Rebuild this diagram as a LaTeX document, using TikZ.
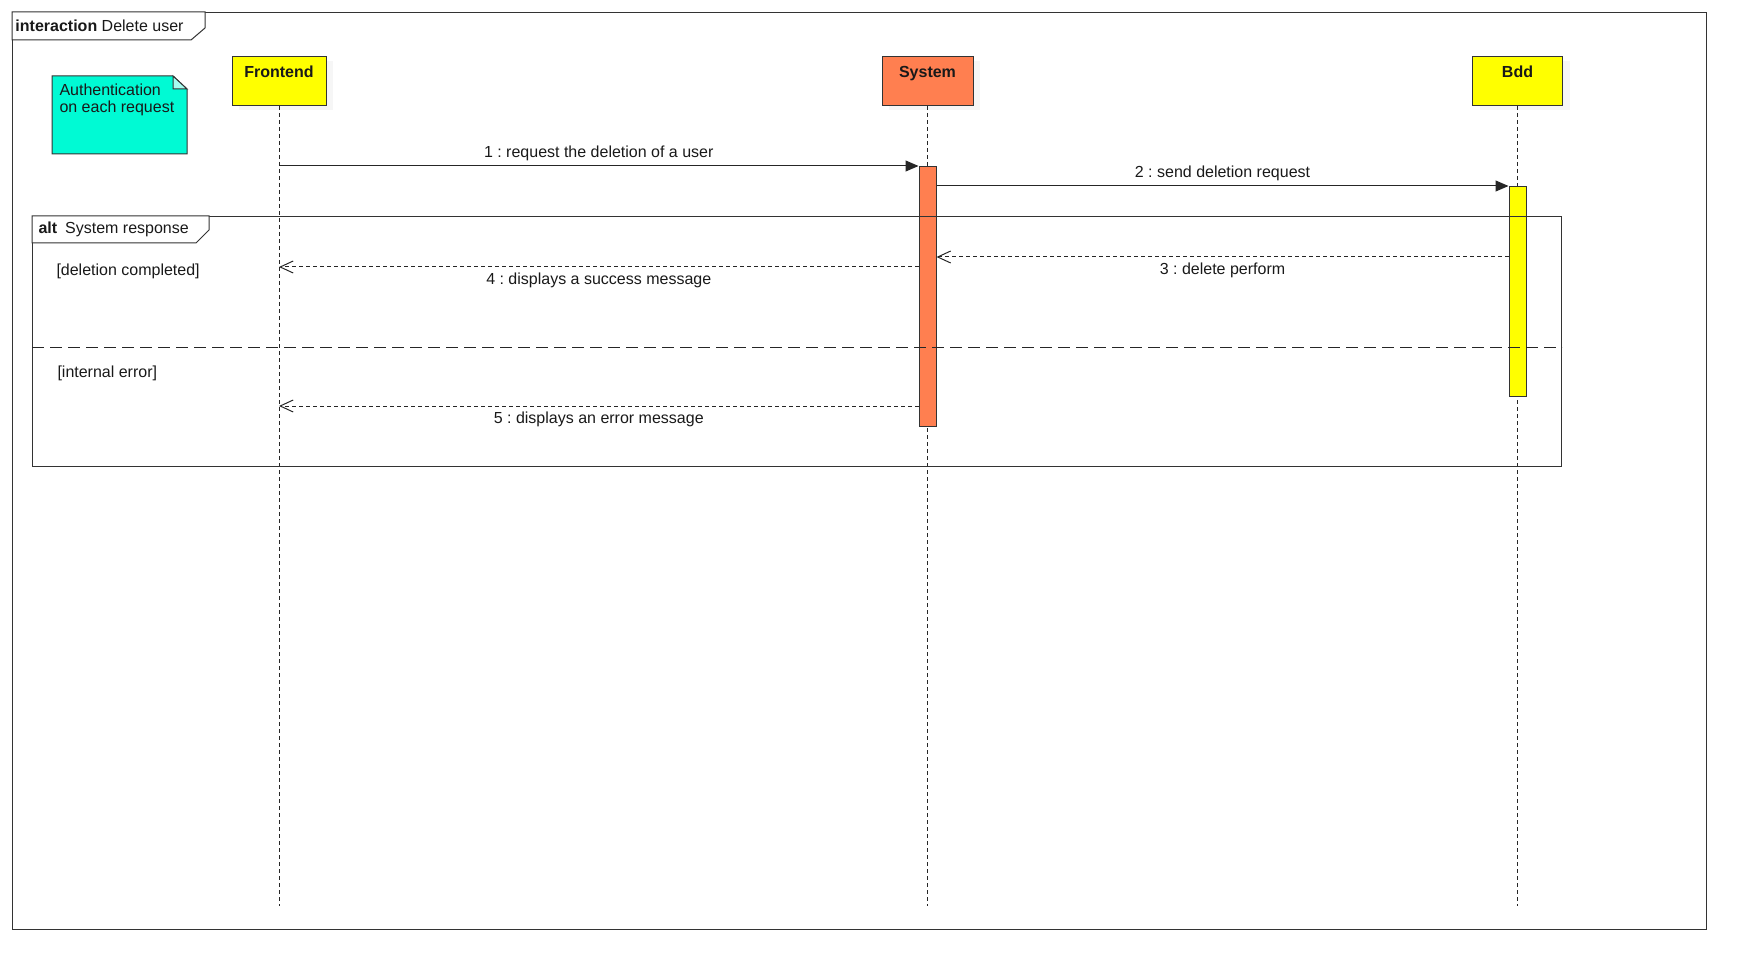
\documentclass[tikz,border=0pt]{standalone}
\usepackage{fontspec}
\setmainfont{Liberation Sans}
\usetikzlibrary{positioning,arrows.meta,shadows}
\frenchspacing

\definecolor{headyellow}{RGB}{255,255,0}
\definecolor{syscoral}{RGB}{255,127,80}
\definecolor{noteaqua}{RGB}{0,250,212}
\definecolor{framegray}{RGB}{51,51,51}

\begin{document}
\begin{tikzpicture}[x=1pt, y=-1pt, line width=1pt,
    every node/.style = {font=\fontsize{16}{17}\selectfont, text=black!90},
    head/.style = {draw=framegray, minimum width=#1, inner sep=0pt, anchor=north,
      text height=21pt, text depth=28pt, font=\fontsize{16}{17}\selectfont\bfseries,
      drop shadow={opacity=0.07, shadow xshift=7pt, shadow yshift=-5pt}},
    lifeline/.style = {draw=black!85, line width=0.8pt, dash pattern=on 4pt off 3pt},
    actbar/.style = {draw=framegray, minimum width=17pt, inner sep=0pt, anchor=north},
    sync/.style = {draw=black!85, -{Triangle[length=13pt,width=11pt]}},
    reply/.style = {draw=black!85, dash pattern=on 4pt off 3pt, -{Straight Barb[length=13pt,width=12pt]}},
    msglabel/.style = {midway, inner sep=5pt},
    umlframe/.style = {draw=framegray, inner sep=0pt, anchor=north west},
    guard/.style = {anchor=west, inner sep=0pt}]
  \useasboundingbox (0,0) rectangle (1756,976);

  % rows of the messages
  \coordinate (m1) at (0,166);
  \coordinate (m2) at (0,186);
  \coordinate (m3) at (0,257);
  \coordinate (m4) at (0,267);
  \coordinate (m5) at (0,406);
  \coordinate (sep) at (0,347);
  \coordinate (lifeend) at (0,906);

  % note
  \node [minimum width=134pt, minimum height=77pt, inner sep=0pt, anchor=north west] (authnote) at (52,76) {};
  \draw [draw=black!80, fill=noteaqua] (authnote.north west) -- ([xshift=-14pt]authnote.north east)
    -- ([yshift=-13pt]authnote.north east) -- (authnote.south east) -- (authnote.south west) -- cycle;
  \draw [draw=black!80, fill=noteaqua!35!white] ([xshift=-14pt]authnote.north east)
    -- ([xshift=-14pt,yshift=-13pt]authnote.north east) -- ([yshift=-13pt]authnote.north east) -- cycle;
  \node [anchor=north west, align=left, inner sep=0pt] (notetext) at ([shift={(7,7)}]authnote.north west) {Authentication\\on each request};

  % lifelines
  \node [head=94pt, fill=headyellow] (front) at (279,56) {Frontend};
  \node [head=91pt, fill=syscoral] (sys) at (927.5,56) {System};
  \node [head=90pt, fill=headyellow] (bdd) at (1517.5,56) {Bdd};
  \draw [lifeline] (front.south) -- (front.south |- lifeend);
  \draw [lifeline] (sys.south) -- (sys.south |- lifeend);
  \draw [lifeline] (bdd.south) -- (bdd.south |- lifeend);

  \node [actbar, fill=syscoral, minimum height=260pt] (sysact) at (sys.south |- m1) {};
  \node [actbar, fill=headyellow, minimum height=210pt] (bddact) at (bdd.south |- m2) {};

  % messages
  \draw [sync] (front.south |- m1) -- (sysact.north west) node [msglabel, above] {1 : request the deletion of a user};
  \draw [sync] (sysact.east |- m2) -- (bddact.north west) node [msglabel, above] {2 : send deletion request};
  \draw [reply] (bddact.west |- m3) -- (sysact.east |- m3) node [msglabel, below] {3 : delete perform};
  \draw [reply] (sysact.west |- m4) -- (front.south |- m4) node [msglabel, below] {4 : displays a success message};
  \draw [reply] (sysact.west |- m5) -- (front.south |- m5) node [msglabel, below] {5 : displays an error message};

  % frames
  \node [umlframe, minimum width=1694pt, minimum height=917pt] (interaction) at (12,12) {};
  \draw [draw=framegray, fill=white] (interaction.north west) -- ++(193,0) -- ++(0,16) -- ++(-14,12) -- ++(-179,0) -- cycle;
  \node [guard] (inttitle) at ([shift={(3,14)}]interaction.north west) {\textbf{interaction} Delete user};

  \node [umlframe, minimum width=1529pt, minimum height=250pt] (altframe) at (32,216) {};
  \draw [draw=framegray, fill=white] (altframe.north west) -- ++(177,0) -- ++(0,14) -- ++(-13,13) -- ++(-164,0) -- cycle;
  \node [guard] (alttitle) at ([shift={(6,13)}]altframe.north west) {\textbf{alt}\enspace System response};
  \node [guard] (okguard) at ([shift={(24,55)}]altframe.north west) {[deletion completed]};
  \node [guard] (errguard) at ([shift={(25,157)}]altframe.north west) {[internal error]};
  \draw [draw=black!85, dash pattern=on 12pt off 6pt] (altframe.west |- sep) -- (altframe.east |- sep);
\end{tikzpicture}
\end{document}
